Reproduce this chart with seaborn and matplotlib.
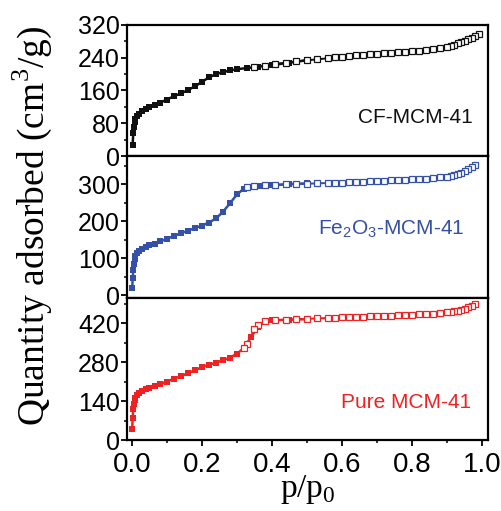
import matplotlib
matplotlib.use("Agg")
import matplotlib.pyplot as plt
import seaborn as sns
import numpy as np
from matplotlib.ticker import MultipleLocator

sns.set_style("ticks")
plt.rcParams['font.family'] = ['Liberation Sans', 'DejaVu Sans']
plt.rcParams['mathtext.fontset'] = 'custom'
plt.rcParams['mathtext.rm'] = 'Liberation Serif'
plt.rcParams['mathtext.sf'] = 'Liberation Sans'
plt.rcParams['xtick.color'] = 'black'
plt.rcParams['ytick.color'] = 'black'
plt.rcParams['xtick.labelcolor'] = 'black'
plt.rcParams['ytick.labelcolor'] = 'black'

# ---- data ----
cf_ads_p = [0.002, 0.004, 0.006, 0.008, 0.010, 0.015, 0.02, 0.03, 0.04, 0.05, 0.065, 0.08, 0.10, 0.12,
            0.14, 0.16, 0.18, 0.20, 0.22, 0.24, 0.26, 0.28, 0.30, 0.33, 0.36, 0.40, 0.45, 0.50]
cf_ads_v = [28, 55, 72, 83, 90, 98, 103, 110, 115, 119, 124, 130, 138, 146,
            153, 161, 170, 181, 192, 200, 205, 209, 212, 215, 218, 222, 228, 234]
cf_des_p = [0.99, 0.98, 0.97, 0.96, 0.95, 0.94, 0.93, 0.92, 0.91, 0.90, 0.88, 0.86, 0.84, 0.82, 0.80,
            0.78, 0.76, 0.74, 0.72, 0.70, 0.68, 0.66, 0.64, 0.62, 0.60, 0.58, 0.56, 0.53, 0.50, 0.47,
            0.44, 0.41, 0.38, 0.35]
cf_des_v = [297, 292, 288, 285, 281, 278, 275, 272, 269, 267, 264, 261, 259, 257, 256,
            254, 253, 252, 251, 250, 248, 247, 246, 245, 243, 241, 239, 236, 234, 231,
            228, 225, 221, 218]

fe_ads_p = [0.001, 0.002, 0.004, 0.006, 0.008, 0.010, 0.015, 0.02, 0.03, 0.04, 0.05, 0.065, 0.08, 0.10,
            0.12, 0.14, 0.16, 0.18, 0.20, 0.22, 0.24, 0.26, 0.28, 0.30, 0.32, 0.34, 0.37, 0.40, 0.45, 0.50]
fe_ads_v = [18, 45, 68, 85, 97, 106, 113, 118, 125, 130, 134, 139, 145, 152,
            160, 167, 174, 181, 188, 196, 207, 225, 248, 272, 288, 293, 295, 297, 300, 302]
fe_des_p = [0.98, 0.97, 0.96, 0.95, 0.94, 0.93, 0.92, 0.91, 0.90, 0.88, 0.86, 0.84, 0.82, 0.80,
            0.78, 0.76, 0.74, 0.72, 0.70, 0.68, 0.66, 0.64, 0.62, 0.60, 0.58, 0.56, 0.53, 0.50,
            0.47, 0.44, 0.41, 0.38, 0.35, 0.33]
fe_des_v = [352, 345, 340, 336, 331, 328, 325, 322, 320, 318, 316, 315, 314, 313,
            312, 311, 310, 309, 309, 308, 307, 306, 305, 304, 304, 303, 302, 301,
            300, 299, 298, 297, 295, 292]

pu_ads_p = [0.001, 0.002, 0.004, 0.006, 0.008, 0.010, 0.015, 0.02, 0.03, 0.04, 0.05, 0.065, 0.08, 0.10,
            0.12, 0.14, 0.16, 0.18, 0.20, 0.22, 0.24, 0.26, 0.28, 0.30, 0.32, 0.34, 0.36, 0.38, 0.40,
            0.45, 0.50]
pu_ads_v = [40, 80, 110, 130, 142, 150, 160, 168, 177, 183, 188, 194, 200, 210,
            220, 229, 240, 250, 262, 270, 278, 286, 296, 310, 330, 370, 405, 425, 430,
            432, 434]
pu_des_p = [0.98, 0.97, 0.96, 0.95, 0.94, 0.93, 0.92, 0.91, 0.90, 0.88, 0.86, 0.84, 0.82, 0.80,
            0.78, 0.76, 0.74, 0.72, 0.70, 0.68, 0.66, 0.64, 0.62, 0.60, 0.58, 0.56, 0.53, 0.50,
            0.47, 0.44, 0.41, 0.38, 0.36, 0.35, 0.33, 0.32]
pu_des_v = [490, 482, 476, 472, 468, 465, 462, 460, 458, 456, 454, 452, 451, 450,
            449, 448, 447, 446, 445, 444, 443, 442, 441, 440, 439, 438, 437, 435,
            434, 432, 430, 428, 412, 398, 345, 332]

panels = [
    dict(ads=(cf_ads_p, cf_ads_v), des=(cf_des_p, cf_des_v), color="#111111",
         label="CF-MCM-41", lpos=(0.81, 93), ylim=(0, 320), yt=[0, 80, 160, 240, 320], ym=40),
    dict(ads=(fe_ads_p, fe_ads_v), des=(fe_des_p, fe_des_v), color="#3550a8",
         label=r"Fe$_\mathsf{2}$O$_\mathsf{3}$-MCM-41", lpos=(0.742, 177), ylim=(-8, 376),
         yt=[0, 100, 200, 300], ym=50),
    dict(ads=(pu_ads_p, pu_ads_v), des=(pu_des_p, pu_des_v), color="#ee2222",
         label="Pure MCM-41", lpos=(0.783, 134), ylim=(0, 510), yt=[0, 140, 280, 420], ym=70),
]

W, H = 502, 511
fig = plt.figure(figsize=(W / 100, H / 100), dpi=100)
left, right = 127 / W, 488 / W
bounds = [(25, 156), (156, 298), (298, 440)]

for i, (pn, (yt_px, yb_px)) in enumerate(zip(panels, bounds)):
    ax = fig.add_axes([left, 1 - yb_px / H, right - left, (yb_px - yt_px) / H])
    c = pn["color"]
    sns.lineplot(x=pn["ads"][0], y=pn["ads"][1], ax=ax, color=c, sort=False, estimator=None,
                 marker="s", markersize=3.8, markeredgewidth=0, linewidth=1.8)
    sns.lineplot(x=pn["des"][0], y=pn["des"][1], ax=ax, color=c, sort=False, estimator=None,
                 marker="s", markersize=4.2, markerfacecolor="white", markeredgecolor=c,
                 markeredgewidth=0.9, linewidth=1.4)
    ax.set_xlim(-0.014, 1.017)
    ax.set_ylim(*pn["ylim"])
    ax.set_yticks(pn["yt"])
    ax.yaxis.set_minor_locator(MultipleLocator(pn["ym"]))
    ax.xaxis.set_major_locator(MultipleLocator(0.2))
    ax.xaxis.set_minor_locator(MultipleLocator(0.1))
    ax.tick_params(axis="y", which="major", direction="out", length=4, width=1.3,
                   labelsize=18, pad=1)
    ax.tick_params(axis="y", which="minor", direction="out", length=2.5, width=1.1)
    if i < 2:
        ax.tick_params(axis="x", which="both", bottom=False, labelbottom=False)
    else:
        ax.tick_params(axis="x", which="major", direction="out", length=4, width=1.3,
                       labelsize=20, pad=5)
        ax.tick_params(axis="x", which="minor", direction="out", length=2.5, width=1.1)
    for s in ax.spines.values():
        s.set_visible(True)
        s.set_linewidth(1.6)
        s.set_color("black")
    ax.set_xlabel("")
    ax.set_ylabel("")
    ax.text(pn["lpos"][0], pn["lpos"][1], pn["label"], color=c, fontsize=15,
            ha="center", va="center")

fig.text(32 / W, 1 - 226 / H, r"Quantity adsorbed (cm$^\mathrm{3}$/g)", rotation=90,
         ha="center", va="center", fontsize=27, family="Liberation Serif", color="black")
fig.text(308 / W, 1 - 489 / H, r"p/p$_\mathrm{0}$", ha="center", va="center",
         fontsize=24, family="Liberation Serif", color="black")

fig.savefig("out.png", dpi=100)
